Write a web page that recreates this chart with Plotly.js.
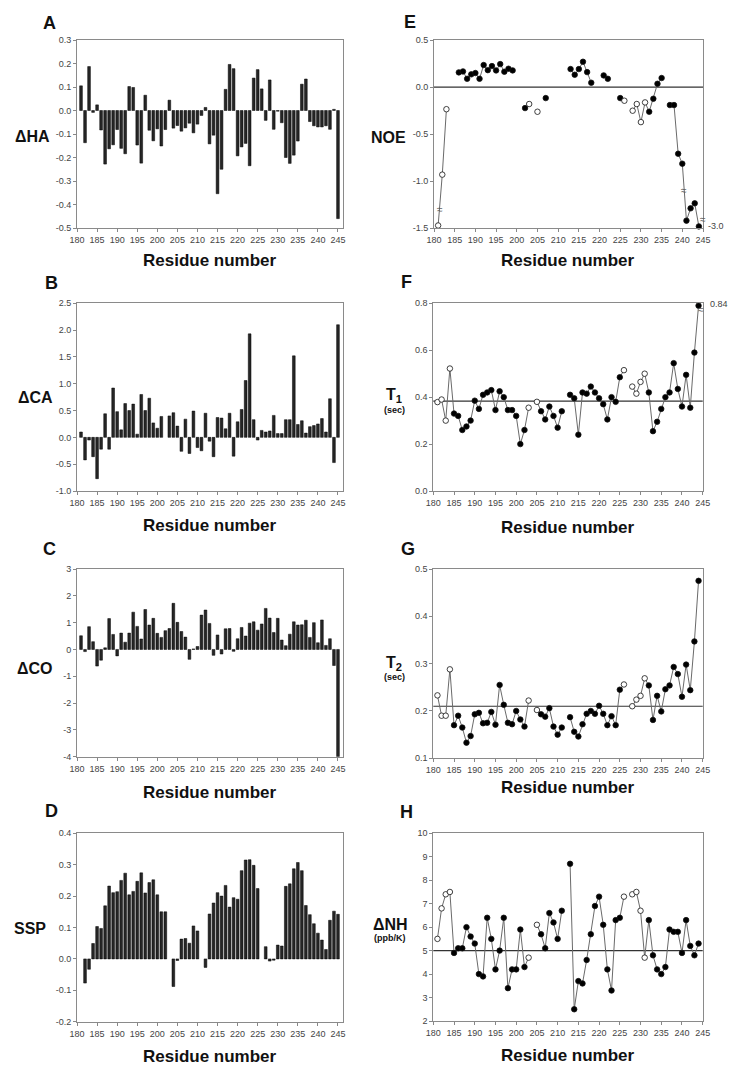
<!DOCTYPE html>
<html><head><meta charset="utf-8">
<script src="https://cdn.plot.ly/plotly-3.0.1.min.js"></script>
<style>html,body{margin:0;padding:0;background:#fff;}#chart{width:738px;height:1081px;}</style>
</head><body><div id="chart"></div>
<script>
// ---------------- DATA ----------------
const residues = [181,182,183,184,185,186,187,188,189,190,191,192,193,194,195,196,197,198,199,200,
  201,202,203,204,205,206,207,208,209,210,211,212,213,214,215,216,217,218,219,220,
  221,222,223,224,225,226,227,228,229,230,231,232,233,234,235,236,237,238,239,240,
  241,242,243,244,245];
const xTicks = [180,185,190,195,200,205,210,215,220,225,230,235,240,245];

const dHA = [0.105,-0.137,0.187,-0.008,0.024,-0.083,-0.228,-0.163,-0.146,-0.081,
  -0.161,-0.184,0.102,0.098,-0.147,-0.224,0.065,-0.084,-0.129,-0.078,
  -0.151,-0.081,0.044,-0.075,-0.064,-0.088,-0.074,-0.054,-0.095,-0.058,
  -0.021,0.013,-0.142,-0.105,-0.354,-0.25,0.09,0.196,0.178,-0.193,
  -0.155,-0.14,-0.235,0.138,0.174,0.092,-0.042,0.13,-0.08,-0.003,
  -0.052,-0.2,-0.225,-0.19,-0.13,0.112,0.134,-0.047,-0.065,-0.07,
  -0.07,-0.065,-0.08,0.005,-0.46];
const dCA = [0.1,-0.42,-0.05,-0.36,-0.77,-0.22,0.44,-0.22,0.92,0.48,
  0.14,0.63,0.5,0.62,0.06,0.8,0.5,0.73,0.27,0.17,
  0.39,null,0.4,0.46,0.21,-0.26,0.34,-0.3,0.49,-0.19,
  -0.25,0.45,-0.07,-0.36,0.37,0.36,0.16,0.45,-0.35,0.29,
  0.52,1.06,1.93,0.33,-0.05,0.13,0.1,0.12,0.41,0.07,
  0.07,0.33,0.33,1.52,0.24,0.31,0.08,0.2,0.22,0.25,
  0.35,0.1,0.72,-0.47,2.1];
const dCO = [0.51,-0.08,0.85,0.29,-0.62,-0.4,0.06,1.15,0.56,-0.24,
  0.61,0.27,0.61,1.39,0.86,0.39,1.49,0.91,1.16,0.6,
  0.45,0.7,0.78,1.72,1.01,0.67,0.46,-0.37,0.02,0.11,
  1.28,1.47,0.97,-0.22,0.54,-0.17,0.77,0.78,-0.07,0.4,
  0.82,0.5,0.98,1.03,0.72,0.95,1.53,1.17,0.63,1.16,
  0.35,0.14,0.57,1.03,0.91,0.92,1.09,0.45,1.0,0.25,
  1.1,0.15,0.4,-0.6,-4.0];
const ssp = [null,-0.077,-0.033,0.049,0.103,0.097,0.169,0.232,0.211,0.214,
  0.25,0.273,0.204,0.215,0.247,0.274,0.21,0.243,0.252,0.204,
  0.15,0.15,null,-0.088,-0.005,0.063,0.065,0.05,0.105,0.089,
  null,-0.027,0.143,0.178,0.211,0.2,0.234,0.165,0.195,0.19,
  0.281,0.315,0.316,0.298,0.224,null,0.039,-0.007,-0.004,0.044,
  0.041,0.231,0.239,0.287,0.307,0.281,0.17,0.141,0.112,0.082,
  0.06,0.03,0.123,0.152,0.142];

const noe = [-1.47,-0.93,-0.235,null,null,0.156,0.166,0.088,0.135,0.149,
  0.088,0.234,0.18,0.223,0.177,0.244,0.163,0.195,0.177,null,
  null,-0.223,-0.18,null,-0.262,null,-0.117,null,null,null,
  null,null,0.191,0.131,0.191,0.269,0.159,0.046,null,null,
  0.124,0.088,null,null,-0.117,-0.145,null,-0.251,-0.18,-0.372,
  -0.163,-0.262,-0.124,0.035,0.096,null,-0.191,-0.191,-0.708,-0.814,
  -1.419,-1.288,-1.235,-1.48,null];
const t1 = [0.379,0.39,0.30,0.522,0.33,0.32,0.26,0.275,0.30,0.385,
  0.35,0.41,0.42,0.43,0.345,0.425,0.40,0.345,0.345,0.32,
  0.20,0.26,0.355,null,0.38,0.34,0.305,0.36,0.32,0.27,
  0.34,null,0.41,0.395,0.24,0.42,0.415,0.445,0.42,0.395,
  0.37,0.305,0.40,0.38,0.485,0.515,null,0.445,0.415,0.465,
  0.50,0.42,0.255,0.295,0.35,0.40,0.42,0.545,0.435,0.36,
  0.495,0.355,0.59,0.79,null];
const t2 = [0.233,0.19,0.19,0.288,0.17,0.19,0.165,0.133,0.147,0.193,
  0.196,0.174,0.175,0.198,0.171,0.255,0.213,0.175,0.172,0.2,
  0.182,0.167,0.222,null,0.202,0.193,0.188,0.206,0.167,0.15,
  0.165,null,0.187,0.156,0.146,0.172,0.194,0.2,0.194,0.211,
  0.194,0.17,0.189,0.17,0.245,0.256,null,0.21,0.224,0.232,
  0.269,0.254,0.181,0.232,0.199,0.246,0.254,0.293,0.278,0.23,
  0.298,0.244,0.347,0.475,null];
const dNH = [5.5,6.8,7.4,7.5,4.9,5.1,5.1,6.0,5.6,5.3,
  4.0,3.9,6.4,5.5,4.2,5.0,6.4,3.4,4.2,4.2,
  5.9,4.3,4.7,null,6.1,5.7,5.1,6.6,6.2,5.5,
  6.7,null,8.7,2.5,3.7,3.6,4.6,5.7,6.9,7.3,
  6.1,4.2,3.3,6.3,6.4,7.3,null,7.4,7.5,6.7,
  4.7,6.3,4.8,4.2,4.0,4.3,5.9,5.8,5.8,4.9,
  6.3,5.2,4.8,5.3,null];

const openNOE = [181,182,183,203,205,226,228,229,230,231];
const openT1  = [181,182,183,184,203,205,226,228,229,230,231];
const openT2  = [181,182,183,184,203,205,226,228,229,230,231];
const openNH  = [181,182,183,184,203,205,226,228,229,230,231];

const refLines = [0, 0.383, 0.21, 5];      // E, F, G, H horizontal reference lines
const breakNOE = [[181.4,-1.30],[240.5,-1.10],[245,-1.41]];
const breakT1  = [[244.6,0.775]];
const offscaleNOE = '-3.0';
const offscaleT1 = '0.84';

// ---------------- LAYOUT ----------------
const W = 738, H = 1081;
const FONT = '"Liberation Sans", Arial, sans-serif';
const px = x => x / W;
const py = y => 1 - y / H;

const panels = [
  {n:1, kind:'bar', y:dHA, xd:[77,343], yd:[40,228], xr:[180,246.25], yr:[-0.5,0.3], dt:0.1, dec:1,
   letter:'A', lx:49, ly:23, title:'ΔHA', tx:32, ty:136, xt:[210,260]},
  {n:2, kind:'bar', y:dCA, xd:[77,343], yd:[303.3,491], xr:[180,246.25], yr:[-1,2.5], dt:0.5, dec:1,
   letter:'B', lx:51, ly:283, title:'ΔCA', tx:35, ty:397, xt:[210,525]},
  {n:3, kind:'bar', y:dCO, xd:[77,343], yd:[569,756.7], xr:[180,246.25], yr:[-4,3], dt:1, dec:0,
   letter:'C', lx:50, ly:549, title:'ΔCO', tx:35, ty:668, xt:[210,792]},
  {n:4, kind:'bar', y:ssp, xd:[77,343], yd:[833.3,1021.7], xr:[180,246.25], yr:[-0.2,0.4], dt:0.1, dec:1,
   letter:'D', lx:51, ly:811, title:'SSP', tx:30, ty:928, xt:[210,1056]},
  {n:5, kind:'pt', y:noe, open:openNOE, xd:[434,703], yd:[40,228.3], xr:[180,245], yr:[-1.5,0.5], dt:0.5, dec:1,
   letter:'E', lx:410, ly:22, title:'NOE', tx:388, ty:138, xt:[568,260], ref:refLines[0]},
  {n:6, kind:'pt', y:t1, open:openT1, xd:[433.3,702.7], yd:[303.3,491], xr:[180,245], yr:[0,0.8], dt:0.2, dec:1,
   letter:'F', lx:407, ly:282, title:'T<sub>1</sub>', sub:'(sec)', tx:394, ty:396, sy:410, xt:[568,527], ref:refLines[1]},
  {n:7, kind:'pt', y:t2, open:openT2, xd:[433.3,702.7], yd:[569,758.3], xr:[180,245], yr:[0.1,0.5], dt:0.1, dec:1,
   letter:'G', lx:408, ly:549, title:'T<sub>2</sub>', sub:'(sec)', tx:394, ty:663, sy:677, xt:[568,788], ref:refLines[2]},
  {n:8, kind:'pt', y:dNH, open:openNH, xd:[433.3,702.7], yd:[833.3,1021], xr:[180,245], yr:[2,10], dt:1, dec:0,
   letter:'H', lx:407, ly:812, title:'ΔNH', sub:'(ppb/K)', tx:390, ty:924, sy:938, xt:[568,1055], ref:refLines[3]}
];

const traces = [];
const layout = {
  width: W, height: H,
  margin: {l:0, r:0, t:0, b:0},
  paper_bgcolor: '#ffffff', plot_bgcolor: '#ffffff',
  showlegend: false,
  font: {family: FONT, size: 9, color: '#444'},
  annotations: [], shapes: []
};

function yTicks(p) {
  const vals = [], txt = [];
  const nSteps = Math.round((p.yr[1] - p.yr[0]) / p.dt);
  for (let i = 0; i <= nSteps; i++) {
    const v = p.yr[0] + i * p.dt;
    vals.push(v);
    let s = (Math.abs(v) < 1e-9 ? 0 : v).toFixed(p.dec);
    txt.push(s); // plain hyphen-minus like the original
  }
  return {vals, txt};
}

panels.forEach(p => {
  const xa = 'x' + (p.n === 1 ? '' : p.n), ya = 'y' + (p.n === 1 ? '' : p.n);
  const xk = 'xaxis' + (p.n === 1 ? '' : p.n), yk = 'yaxis' + (p.n === 1 ? '' : p.n);
  if (p.kind === 'bar') {
    traces.push({type:'bar', x:residues, y:p.y, xaxis:xa, yaxis:ya, width:0.68,
      marker:{color:'#262626', line:{color:'#000', width:0.5}}, hoverinfo:'x+y'});
  } else {
    const colors = residues.map(r => p.open.includes(r) ? '#ffffff' : '#000000');
    traces.push({type:'scatter', mode:'lines+markers', x:residues, y:p.y, xaxis:xa, yaxis:ya,
      connectgaps:false, cliponaxis:false,
      line:{color:'#6a6a6a', width:1},
      marker:{size:5.5, color:colors, line:{color:'#111', width:0.8}}});
    layout.shapes.push({type:'line', xref:xa + ' domain', yref:ya, x0:0, x1:1, y0:p.ref, y1:p.ref,
      line:{color:'#333', width:1.2}, layer:'below'});
  }
  const yt = yTicks(p);
  layout[xk] = {domain:[px(p.xd[0]), px(p.xd[1])], range:p.xr, anchor:ya,
    tickmode:'array', tickvals:xTicks, ticktext:xTicks.map(String), ticks:'outside', ticklen:3, tickcolor:'#888',
    showline:true, mirror:true, linecolor:'#8a8a8a', linewidth:1, showgrid:false, zeroline:false,
    tickfont:{family:FONT, size:9, color:'#444'}, fixedrange:true};
  layout[yk] = {domain:[py(p.yd[1]), py(p.yd[0])], range:p.yr, anchor:xa,
    tickmode:'array', tickvals:yt.vals, ticktext:yt.txt, ticks:'outside', ticklen:3, tickcolor:'#888',
    showline:true, mirror:true, linecolor:'#8a8a8a', linewidth:1, showgrid:false, zeroline:false,
    tickfont:{family:FONT, size:9, color:'#444'}, fixedrange:true};

  const A = layout.annotations;
  A.push({xref:'paper', yref:'paper', x:px(p.lx), y:py(p.ly), text:'<b>'+p.letter+'</b>', showarrow:false,
    xanchor:'center', yanchor:'middle', font:{family:FONT, size:18, color:'#111'}});
  A.push({xref:'paper', yref:'paper', x:px(p.tx), y:py(p.ty), text:'<b>'+p.title+'</b>', showarrow:false,
    xanchor:'center', yanchor:'middle', font:{family:FONT, size:16, color:'#111'}});
  if (p.sub) A.push({xref:'paper', yref:'paper', x:px(p.tx), y:py(p.sy), text:'<b>'+p.sub+'</b>', showarrow:false,
    xanchor:'center', yanchor:'middle', font:{family:FONT, size:9, color:'#111'}});
  A.push({xref:'paper', yref:'paper', x:px(p.xt[0]), y:py(p.xt[1]), text:'<b>Residue number</b>', showarrow:false,
    xanchor:'center', yanchor:'middle', font:{family:FONT, size:17, color:'#111'}});
});

// axis-break marks and off-scale labels
breakNOE.forEach(b => layout.annotations.push({xref:'x5', yref:'y5', x:b[0], y:b[1], text:'≈', showarrow:false,
  font:{family:FONT, size:10, color:'#555'}, borderpad:0}));
breakT1.forEach(b => layout.annotations.push({xref:'x6', yref:'y6', x:b[0], y:b[1], text:'≈', showarrow:false,
  font:{family:FONT, size:10, color:'#555'}, borderpad:0}));
layout.annotations.push({xref:'paper', yref:'paper', x:px(706), y:py(226), text:offscaleNOE, showarrow:false,
  xanchor:'left', yanchor:'middle', font:{family:FONT, size:9, color:'#444'}});
layout.annotations.push({xref:'paper', yref:'paper', x:px(708), y:py(304), text:offscaleT1, showarrow:false,
  xanchor:'left', yanchor:'middle', font:{family:FONT, size:9, color:'#444'}});

Plotly.newPlot('chart', traces, layout, {displayModeBar:false, staticPlot:true});
</script></body></html>
